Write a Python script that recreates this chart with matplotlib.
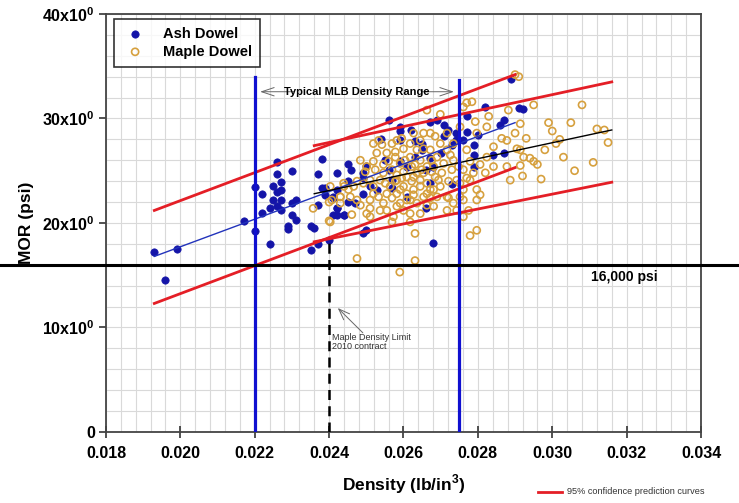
import matplotlib
matplotlib.use("Agg")
import matplotlib.pyplot as plt
from matplotlib.lines import Line2D
from matplotlib.ticker import MultipleLocator, FixedLocator, FixedFormatter
from matplotlib.transforms import blended_transform_factory

plt.rcParams['font.family'] = ['Liberation Sans', 'DejaVu Sans']
plt.rcParams['mathtext.fontset'] = 'custom'
plt.rcParams['mathtext.bf'] = 'Liberation Sans:bold'
plt.rcParams['mathtext.rm'] = 'Liberation Sans:bold'

# ---------------- data ----------------
ash_density = [0.01929, 0.0199, 0.0196, 0.0217, 0.0220, 0.0220, 0.0222, 0.0222, 0.0224, 0.0224,
               0.0226, 0.0226, 0.0225, 0.0227, 0.0226, 0.0227, 0.0225, 0.0227, 0.0226, 0.0227,
               0.0230, 0.0230, 0.0231, 0.0230, 0.0231, 0.0229, 0.0229, 0.0235, 0.0236, 0.0235,
               0.0237, 0.0238, 0.0237, 0.0242, 0.0237, 0.0242, 0.0241, 0.0244, 0.0239, 0.0241,
               0.0240, 0.0245,
               0.0256, 0.0259, 0.0259, 0.0262, 0.0269, 0.0267, 0.0271, 0.0254, 0.0259, 0.0263,
               0.0265, 0.0245, 0.0246, 0.0249, 0.0250, 0.0255, 0.0256, 0.0259, 0.0261, 0.0263,
               0.0265, 0.0267, 0.0268, 0.0266, 0.0270, 0.0271, 0.0272, 0.0273, 0.0274, 0.0274,
               0.0276, 0.0277, 0.0277, 0.0279, 0.0280, 0.0282, 0.0279, 0.0279, 0.0286, 0.0287,
               0.0291, 0.0284, 0.0287, 0.0238, 0.0242, 0.0239, 0.0241, 0.0242, 0.0242, 0.0244,
               0.0247, 0.0245, 0.0249, 0.0251, 0.0257, 0.0253, 0.0249, 0.0257, 0.0261, 0.0267,
               0.0273, 0.0266, 0.0268, 0.0250, 0.0249, 0.0289, 0.0292]
ash_mor = [17.25, 17.5, 14.5, 20.2, 23.4, 19.2, 22.8, 21.0, 21.4, 18.0,
           25.8, 24.7, 23.5, 23.9, 23.0, 23.2, 22.2, 22.2, 21.6, 21.2,
           25.0, 21.9, 22.2, 20.8, 20.3, 19.7, 19.4, 19.7, 19.5, 17.4,
           18.0, 26.1, 24.7, 24.8, 21.7, 21.4, 20.8, 20.8, 23.3, 22.5,
           18.4, 22.0,
           29.9, 29.2, 28.8, 28.9, 29.9, 29.7, 29.4, 28.0, 27.9, 27.8,
           27.6, 25.6, 25.1, 24.8, 25.5, 26.0, 25.1, 25.9, 25.4, 26.3,
           27.0, 26.2, 25.4, 25.1, 26.7, 28.3, 28.9, 27.5, 28.6, 27.9,
           27.9, 30.2, 28.7, 27.5, 28.4, 31.1, 26.5, 25.4, 29.4, 29.9,
           31.0, 26.5, 26.7, 23.3, 23.2, 22.7, 22.4, 21.4, 20.8, 20.8,
           21.9, 24.0, 24.3, 23.5, 24.1, 23.2, 22.8, 23.3, 22.5, 23.8,
           23.7, 21.4, 18.1, 19.3, 19.0, 33.8, 30.9]

maple_density = [0.02663, 0.02699, 0.02761, 0.02770, 0.02784, 0.02829, 0.02882, 0.02914, 0.02950, 0.02793,
                 0.02519, 0.02542, 0.02582, 0.02555, 0.02528, 0.02578, 0.02600, 0.02618, 0.02645, 0.02663,
                 0.02699, 0.02690, 0.02717, 0.02734, 0.02703, 0.02636, 0.02609, 0.02582, 0.02546, 0.02519,
                 0.02484, 0.02524, 0.02497, 0.02466, 0.02475, 0.02439, 0.02403, 0.02600, 0.02627, 0.02645,
                 0.02582, 0.02609, 0.02627, 0.02663, 0.02681, 0.02699, 0.02717, 0.02734, 0.02752, 0.02761,
                 0.02779, 0.02797, 0.02806, 0.02820, 0.02842, 0.02878, 0.02887, 0.02914, 0.02905, 0.02914,
                 0.02923, 0.02878, 0.02864, 0.02770, 0.02779, 0.02761, 0.02770, 0.02806, 0.02501, 0.02510,
                 0.02484, 0.02461, 0.02573, 0.02569, 0.02618, 0.02631, 0.02591, 0.02609, 0.02555, 0.02533,
                 0.02672, 0.02721, 0.02761, 0.02775, 0.02779, 0.02676, 0.02685, 0.02475, 0.02510, 0.02403,
                 0.02475, 0.02631, 0.02654, 0.02672, 0.02618, 0.02636, 0.02654, 0.02560, 0.02591, 0.02622,
                 0.02649, 0.02676, 0.02730, 0.02743, 0.02721, 0.02663, 0.02622, 0.02578, 0.02551, 0.02519,
                 0.02510, 0.02430, 0.02407, 0.02457, 0.02717, 0.02743, 0.02797, 0.02681, 0.02636, 0.02645,
                 0.02600, 0.02546, 0.02537, 0.02582, 0.0244, 0.0240, 0.0243, 0.02357, 0.0240, 0.0259,
                 0.0300, 0.0301, 0.0296, 0.0298, 0.0297, 0.0292, 0.0294, 0.0290, 0.0290, 0.0291,
                 0.02533, 0.02569, 0.02595, 0.02627, 0.02645, 0.02685, 0.02717, 0.02752, 0.02734, 0.02672,
                 0.02578, 0.02604, 0.02631, 0.02654, 0.02681, 0.02708, 0.02726, 0.02546, 0.02501, 0.02569,
                 0.02600, 0.02627, 0.02694, 0.02645, 0.02595, 0.02537, 0.02492, 0.02564, 0.02591, 0.02672,
                 0.02654, 0.02618, 0.02690, 0.02569, 0.02519, 0.02752, 0.02788, 0.02824, 0.02842, 0.02797,
                 0.02824, 0.02748, 0.02452, 0.02430, 0.02555, 0.02582, 0.02663, 0.02761, 0.02797, 0.02510,
                 0.02618, 0.0302, 0.0299, 0.0295, 0.0293,
                 0.0305, 0.0308, 0.0312, 0.0314, 0.0315, 0.0311, 0.0306, 0.0303]
maple_mor = [30.8, 30.4, 31.1, 31.5, 31.6, 30.2, 30.8, 29.5, 31.3, 29.7,
             27.6, 27.5, 27.9, 26.7, 26.7, 26.8, 27.1, 26.3, 26.0, 25.4,
             27.6, 26.3, 27.0, 26.0, 24.8, 24.8, 24.4, 24.6, 24.8, 25.9,
             26.0, 25.1, 24.9, 23.5, 24.0, 23.8, 23.5, 23.5, 23.2, 23.5,
             22.8, 22.8, 22.7, 22.8, 23.2, 23.5, 22.5, 21.9, 22.5, 23.2,
             24.1, 23.2, 22.7, 24.8, 25.4, 25.4, 24.1, 25.5, 27.1, 27.0,
             26.3, 27.9, 28.1, 27.0, 25.9, 25.1, 24.3, 25.6, 20.9, 21.4,
             21.7, 20.8, 20.6, 20.1, 20.1, 19.0, 21.9, 22.2, 22.8, 22.5,
             22.4, 22.4, 22.2, 21.2, 18.8, 26.0, 24.4, 22.2, 22.2, 20.1,
             16.6, 16.4, 28.6, 28.6, 27.6, 27.0, 27.1, 25.9, 25.7, 25.4,
             25.1, 24.9, 25.1, 24.1, 24.0, 23.8, 24.0, 24.0, 23.8, 23.5,
             24.1, 22.5, 22.2, 22.5, 21.2, 21.2, 22.2, 21.6, 21.9, 20.9,
             21.2, 21.9, 21.2, 24.1, 23.5, 22.0, 22.5, 21.4, 20.2, 15.3,
             28.8, 27.6, 25.6, 27.0, 24.2, 24.5, 26.2, 28.6, 34.2, 34.0,
             27.9, 27.6, 28.1, 28.6, 27.9, 28.3, 28.6, 29.2, 27.6, 27.0,
             26.3, 26.0, 25.6, 24.8, 25.4, 25.7, 26.5, 25.6, 25.4, 25.1,
             24.9, 24.4, 24.1, 24.1, 24.3, 24.1, 23.8, 23.5, 23.2, 23.2,
             22.5, 22.2, 22.5, 22.4, 22.8, 23.8, 24.8, 26.3, 27.3, 28.6,
             29.2, 25.4, 23.2, 21.9, 21.2, 21.6, 21.7, 20.6, 19.3, 20.6,
             20.9, 28.0, 29.6, 25.9, 28.1,
             29.6, 31.3, 29.0, 28.9, 27.7, 25.8, 25.0, 26.3]

# prediction / regression lines (end points)
ash_fit_x = [0.0193, 0.0290]
ash_fit_y = [16.8, 29.6]
ash_upper_y = [21.2, 34.2]
ash_lower_y = [12.3, 25.3]
maple_fit_x = [0.0236, 0.0316]
maple_fit_y = [22.8, 28.9]
maple_upper_y = [27.4, 33.5]
maple_lower_y = [18.2, 23.9]

range_low, range_high = 0.022, 0.0275
range_top = [34.0, 33.7]
maple_limit = 0.024
maple_limit_top = 18.4
strength_limit = 16.0

x_ticks = [0.018, 0.020, 0.022, 0.024, 0.026, 0.028, 0.030, 0.032, 0.034]
x_ticklabels = ['0.018', '0.020', '0.022', '0.024', '0.026', '0.028', '0.030', '0.032', '0.034']
y_ticks = [0, 10, 20, 30, 40]
y_ticklabels = ['0', r'10x10$^{\mathbf{0}}$', r'20x10$^{\mathbf{0}}$', r'30x10$^{\mathbf{0}}$', r'40x10$^{\mathbf{0}}$']

# ---------------- figure ----------------
fig = plt.figure(figsize=(7.39, 5.03), dpi=100)
ax = fig.add_axes([0.1434, 0.1412, 0.8052, 0.831])
ax.set_xlim(0.018, 0.034)
ax.set_ylim(0, 40)

ax.xaxis.set_minor_locator(MultipleLocator(0.0004))
ax.yaxis.set_minor_locator(MultipleLocator(2))
ax.grid(True, which='both', color='#d9d9d9', linewidth=0.8, zorder=0)
ax.set_axisbelow(True)
ax.xaxis.set_major_locator(FixedLocator(x_ticks))
ax.xaxis.set_major_formatter(FixedFormatter(x_ticklabels))
ax.yaxis.set_major_locator(FixedLocator(y_ticks))
ax.yaxis.set_major_formatter(FixedFormatter(y_ticklabels))
ax.tick_params(axis='x', which='major', direction='inout', length=8, width=1.2,
               color='#333333', labelsize=11.5, pad=6)
ax.tick_params(axis='y', which='major', direction='out', length=5, width=1.2,
               color='#333333', labelsize=11.5, pad=3)
ax.tick_params(which='minor', length=0)
for lab in ax.get_xticklabels() + ax.get_yticklabels():
    lab.set_fontweight('bold')
for sp in ax.spines.values():
    sp.set_color('#444444')
    sp.set_linewidth(1.3)

ax.set_xlabel(r'Density (lb/in$^{\mathbf{3}}$)', fontsize=12.5, fontweight='bold', labelpad=8)
ax.set_ylabel('MOR (psi)', fontsize=12.5, fontweight='bold', labelpad=6)

# scatter
ax.scatter(ash_density, ash_mor, s=28, color='#1414a8', edgecolors='#1414a8',
           linewidths=0.5, zorder=3, label='Ash Dowel')
ax.scatter(maple_density, maple_mor, s=26, facecolors='none', edgecolors='#d6a03e',
           linewidths=1.2, zorder=3, label='Maple Dowel')

# regression and prediction lines
red = '#e41e26'
ax.plot(ash_fit_x, ash_fit_y, color='#2233bb', lw=1.0, zorder=4)
ax.plot(ash_fit_x, ash_upper_y, color=red, lw=2.0, zorder=5)
ax.plot(ash_fit_x, ash_lower_y, color=red, lw=2.0, zorder=5)
ax.plot(maple_fit_x, maple_fit_y, color='black', lw=1.0, zorder=4)
ax.plot(maple_fit_x, maple_upper_y, color=red, lw=2.0, zorder=5)
ax.plot(maple_fit_x, maple_lower_y, color=red, lw=2.0, zorder=5)

# density range lines
ax.plot([range_low, range_low], [0, range_top[0]], color='#1010d0', lw=2.3, zorder=6)
ax.plot([range_high, range_high], [0, range_top[1]], color='#1010d0', lw=2.3, zorder=6)
ax.plot([maple_limit, maple_limit], [0, maple_limit_top], color='black', lw=1.8,
        ls=(0, (4, 2.5)), zorder=6)

# 16,000 psi line across whole figure
trans = blended_transform_factory(fig.transFigure, ax.transData)
ax.plot([0, 1], [strength_limit, strength_limit], color='black', lw=2.2,
        transform=trans, clip_on=False, zorder=7)
ax.text(0.03194, 14.85, '16,000 psi', fontsize=10, fontweight='bold',
        ha='center', va='center', zorder=8)

# range annotation
ax.text(0.02474, 32.56, 'Typical MLB Density Range', fontsize=8, fontweight='bold',
        ha='center', va='center', zorder=8)
ax.annotate('', xy=(0.02207, 32.56), xytext=(0.02312, 32.56),
            arrowprops=dict(arrowstyle='->,head_length=0.9,head_width=0.3', color='#666666', lw=0.7))
ax.annotate('', xy=(0.02743, 32.56), xytext=(0.02640, 32.56),
            arrowprops=dict(arrowstyle='->,head_length=0.9,head_width=0.3', color='#666666', lw=0.7))

# maple density limit annotation
ax.text(0.02408, 8.6, 'Maple Density Limit\n2010 contract', fontsize=6.5, color='#333333',
        ha='left', va='center', linespacing=1.05, zorder=8)
ax.annotate('', xy=(0.02418, 12.05), xytext=(0.02496, 9.3),
            arrowprops=dict(arrowstyle='->,head_length=0.8,head_width=0.3', color='#666666', lw=0.7))

# legend
leg = ax.legend(loc='upper left', bbox_to_anchor=(8 / 595, 1 - 5 / 418), fontsize=10.5,
                frameon=True, fancybox=False, edgecolor='black', borderpad=0.55,
                handletextpad=1.0, labelspacing=0.25, handlelength=1.8, borderaxespad=0.0)
leg.get_frame().set_linewidth(1.2)
for t in leg.get_texts():
    t.set_fontweight('bold')

# bottom-right key for prediction curves
fig.add_artist(Line2D([538 / 739, 562 / 739], [1 - 491.7 / 503, 1 - 491.7 / 503],
                      color=red, lw=2.0, transform=fig.transFigure))
fig.text(567 / 739, 1 - 491.7 / 503, '95% confidence prediction curves', fontsize=6.6,
         color='#333333', ha='left', va='center')

fig.savefig('out.png', dpi=100)
